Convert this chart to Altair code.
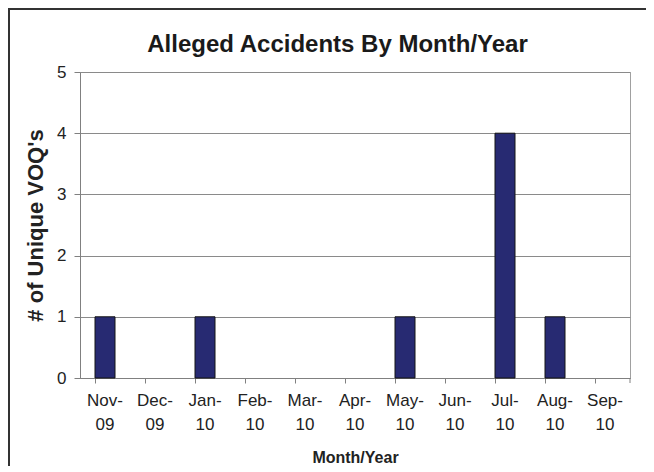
import altair as alt
import pandas as pd

# ---- data ----
months = ["Nov-09", "Dec-09", "Jan-10", "Feb-10", "Mar-10", "Apr-10",
          "May-10", "Jun-10", "Jul-10", "Aug-10", "Sep-10"]
counts = [1, 0, 1, 0, 0, 0, 1, 0, 4, 1, 0]
y_ticks = [0, 1, 2, 3, 4, 5]
chart_title = "Alleged Accidents By Month/Year"

df = pd.DataFrame({"month": months, "count": counts})

FONT = "Liberation Sans"
W, H = 550, 306

xscale = alt.Scale(domain=months, paddingInner=0.6, paddingOuter=0.3)
yscale = alt.Scale(domain=[0, 5], nice=False)

label_expr = ("[slice(datum.label, 0, indexof(datum.label, '-') + 1), "
              "slice(datum.label, indexof(datum.label, '-') + 1)]")

bars = alt.Chart(df).transform_filter("datum.count > 0").mark_bar(
    color="#272A72", stroke="#151515", strokeWidth=1
).encode(
    x=alt.X("month:N", scale=xscale, sort=months, title="Month/Year",
            axis=alt.Axis(orient="bottom", ticks=False, labelAngle=0,
                          labelExpr=label_expr, labelFont=FONT, labelFontSize=17,
                          labelColor="#222222", labelLineHeight=24, labelPadding=14,
                          titleFont=FONT, titleFontSize=16, titleFontWeight="bold",
                          titleColor="#222222", titlePadding=17,
                          domainColor="#808080", grid=False)),
    y=alt.Y("count:Q", scale=yscale, title="# of Unique VOQ's",
            axis=alt.Axis(values=y_ticks, labelFont=FONT, labelFontSize=17,
                          labelColor="#222222", labelPadding=8, tickSize=6,
                          tickColor="#808080", domainColor="#808080",
                          grid=True, gridColor="#8a8a8a",
                          titleFont=FONT, titleFontSize=22, titleFontWeight="bold",
                          titleColor="#222222", titlePadding=9)),
)

ticks = alt.Chart(df).mark_tick(opacity=0).encode(
    x=alt.X("month:N", scale=xscale, sort=months,
            axis=alt.Axis(orient="bottom", bandPosition=0, labels=False, domain=False,
                          ticks=True, tickSize=5, tickColor="#808080", title=None,
                          grid=False)),
)

one = alt.Data(values=[{"t": chart_title}])

title = alt.Chart(one).mark_text(
    font=FONT, fontSize=24, fontWeight="bold", color="#1a1a1a",
    align="center", baseline="alphabetic"
).encode(text="t:N", x=alt.value(257.5), y=alt.value(-20))

frame = alt.Chart(one).mark_rule(color="#333333", strokeWidth=2).encode(
    x=alt.value(-71), y=alt.value(-63), y2=alt.value(420)
) + alt.Chart(one).mark_rule(color="#333333", strokeWidth=2).encode(
    x=alt.value(-72), x2=alt.value(600), y=alt.value(-63)
)

end_tick = alt.Chart(one).mark_rule(color="#808080", strokeWidth=1).encode(
    x=alt.value(W), y=alt.value(H), y2=alt.value(H + 5)
)

chart = alt.layer(bars, ticks, end_tick, frame, title).resolve_axis(x="independent").properties(
    width=W, height=H,
    autosize=alt.AutoSizeParams(type="none"),
    padding={"left": 72, "top": 64, "right": 16, "bottom": 88},
).configure_view(stroke="#a0a0a0", strokeWidth=1)

chart.save("out.html", embed_options={"renderer": "svg", "actions": False})
